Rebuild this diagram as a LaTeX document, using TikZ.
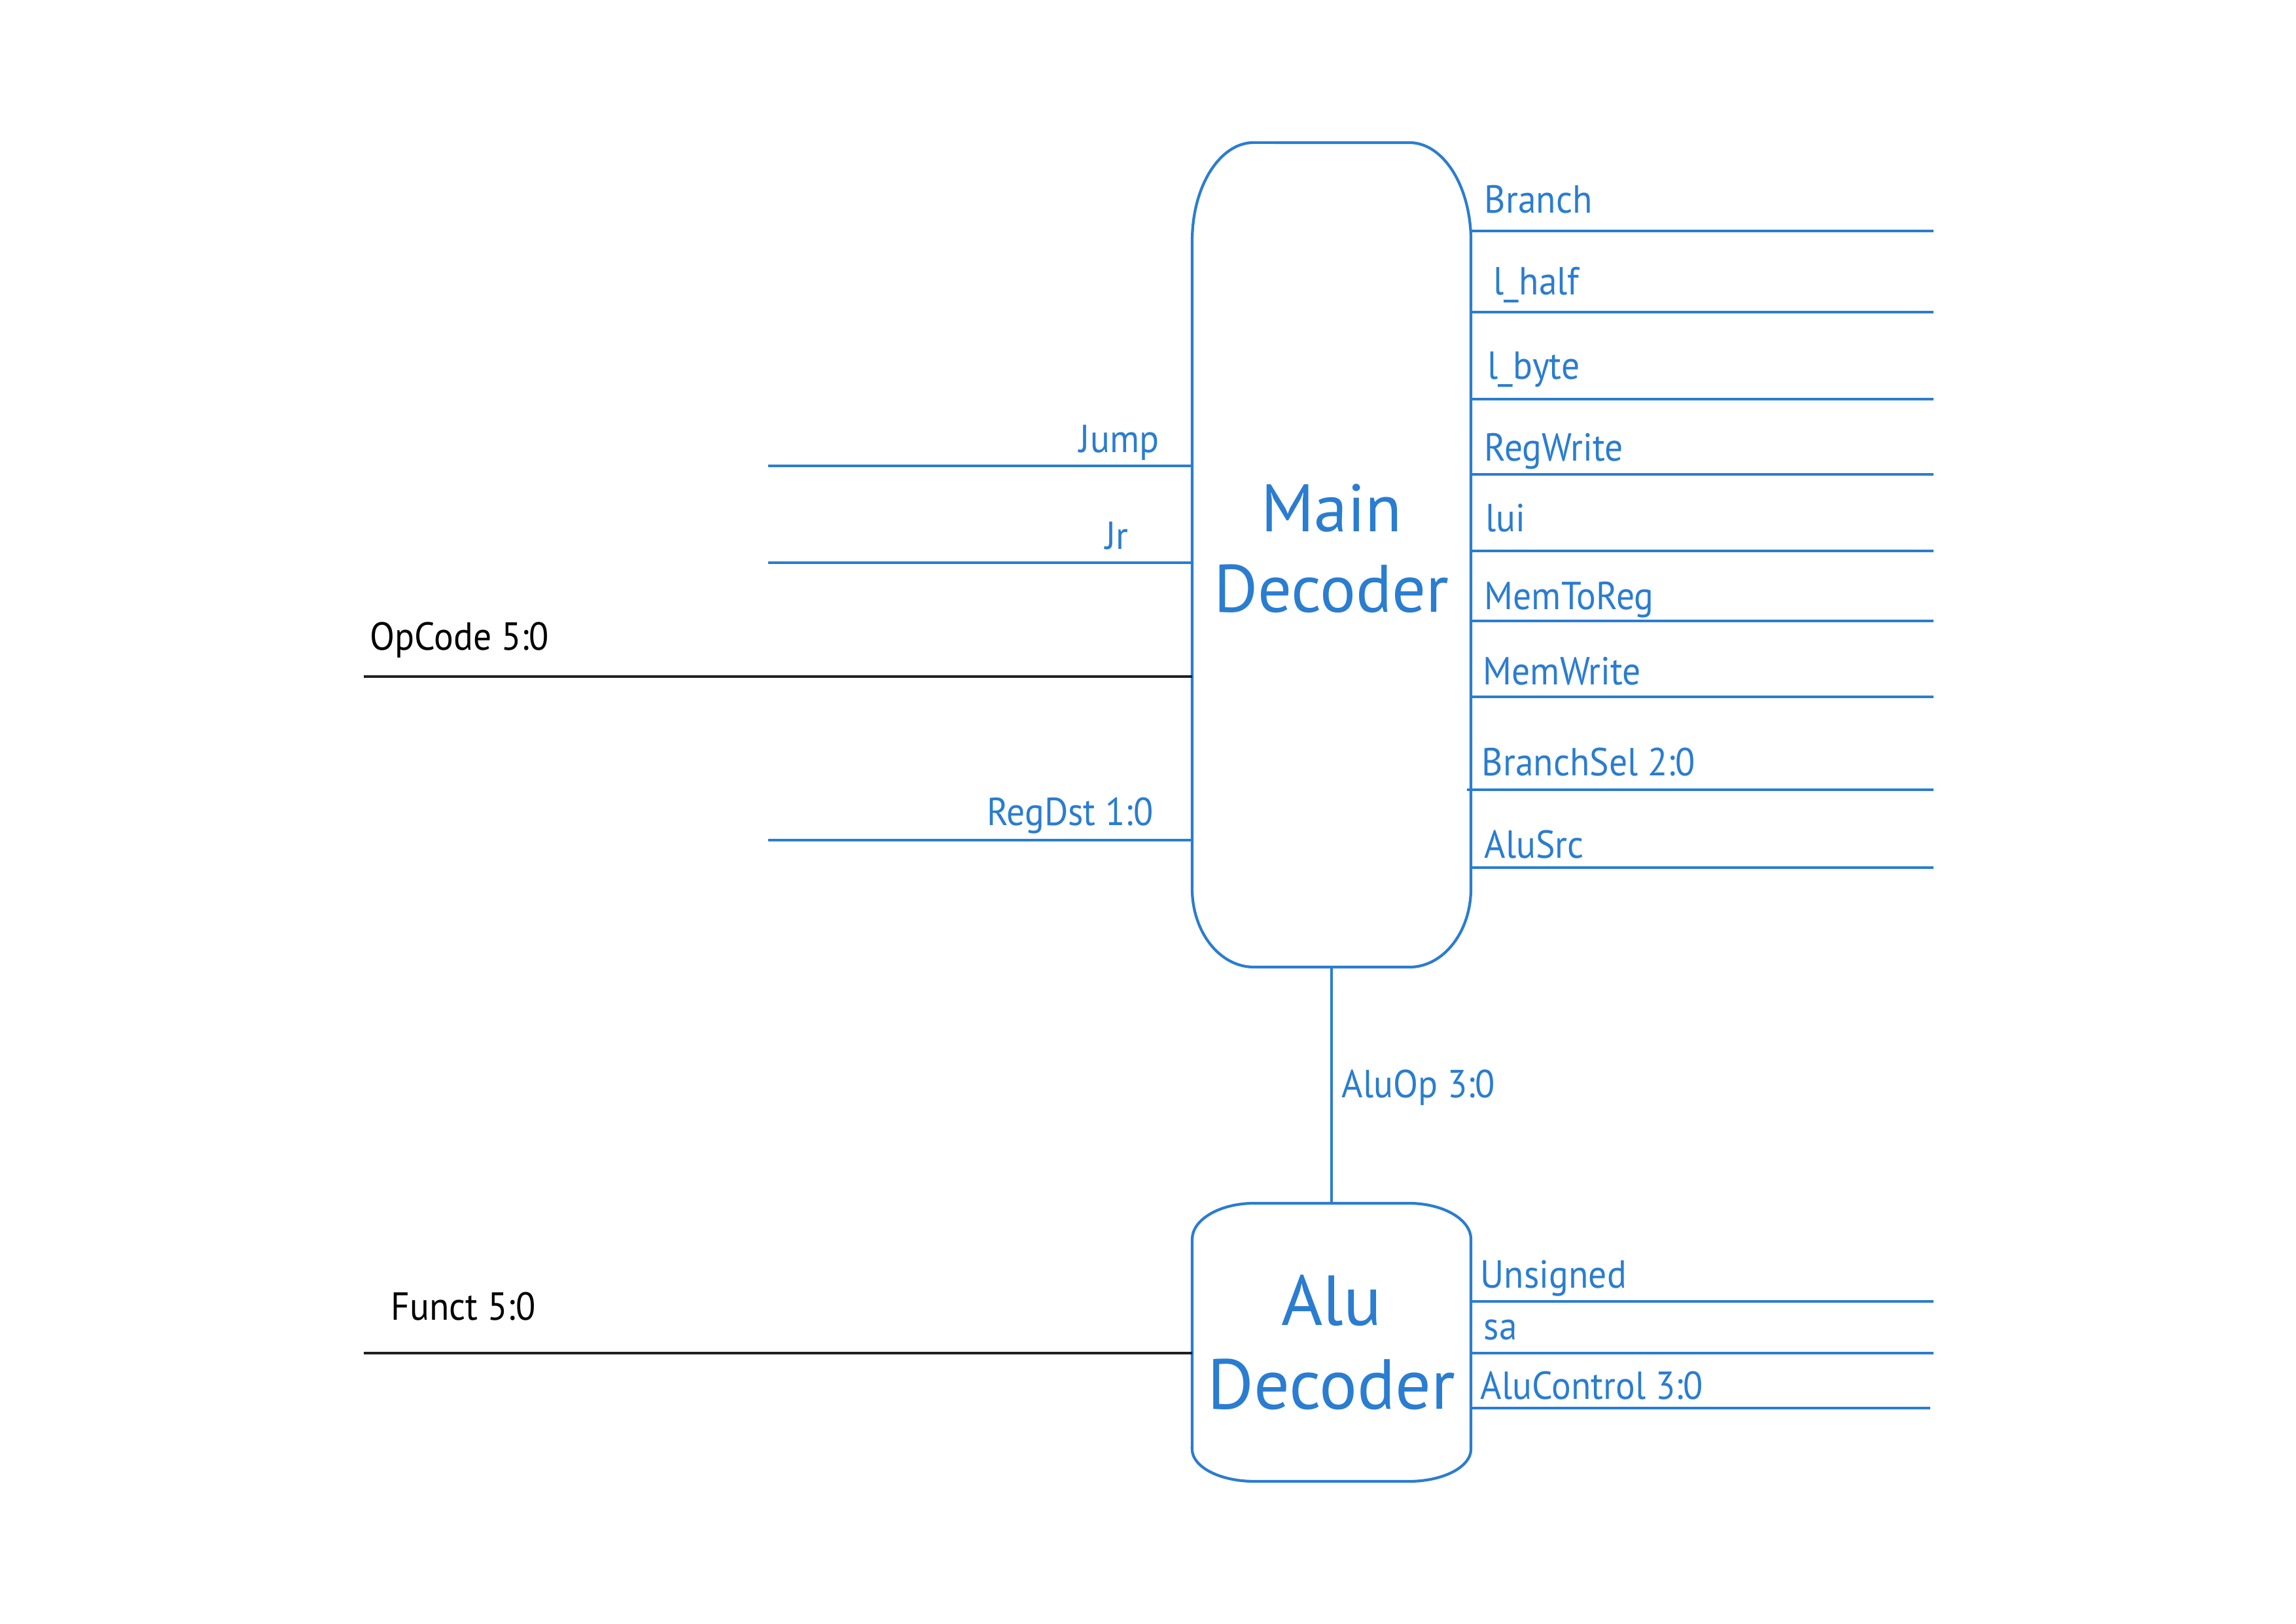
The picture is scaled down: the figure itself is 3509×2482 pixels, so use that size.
\documentclass[tikz,border=0pt]{standalone}
\usepackage{fontspec}
\setmainfont{PT Sans}
\newfontfamily\lblfont{PT Sans}[FakeStretch=0.93]
\definecolor{wire}{HTML}{2A7DD0}
\definecolor{ink}{HTML}{231F20}
\begin{document}
\begin{tikzpicture}[x=0.01cm,y=0.01cm,
  bluewire/.style={draw=wire,line width=1.2pt},
  blackwire/.style={draw=ink,line width=1.25pt},
  lbl/.style={text=wire,font=\lblfont\fontsize{17}{20}\selectfont,inner sep=0pt},
  blbl/.style={text=black,font=\lblfont\fontsize{17}{20}\selectfont,inner sep=0pt},
  title/.style={text=wire,font=\fontsize{29.2}{34}\selectfont,inner sep=0pt},
  atitle/.style={text=wire,font=\fontsize{30.8}{36}\selectfont,inner sep=0pt},
  block/.style={rectangle,inner sep=0pt,outer sep=0pt,minimum width=4.26cm}]
\useasboundingbox (0,0) rectangle (3509,2482);
\fill[white] (0,0) rectangle (3509,2482);

% blocks (outlines drawn with elliptical corners)
\node[block,minimum height=12.60cm] (main) at (2035,1634) {};
\node[block,minimum height=4.25cm] (alu) at (2035,430.5) {};

\draw[bluewire] (1822,1124) -- (1822,2114)
  arc[start angle=180,end angle=90,x radius=0.94cm,y radius=1.5cm]
  -- (2154,2264)
  arc[start angle=90,end angle=0,x radius=0.94cm,y radius=1.5cm]
  -- (2248,1124)
  arc[start angle=0,end angle=-90,x radius=0.94cm,y radius=1.2cm]
  -- (1916,1004)
  arc[start angle=270,end angle=180,x radius=0.94cm,y radius=1.2cm]
  -- cycle;
\draw[bluewire] (1822,267) -- (1822,588)
  arc[start angle=180,end angle=90,x radius=0.95cm,y radius=0.55cm]
  -- (2153,643)
  arc[start angle=90,end angle=0,x radius=0.95cm,y radius=0.55cm]
  -- (2248,267)
  arc[start angle=0,end angle=-90,x radius=0.95cm,y radius=0.49cm]
  -- (1917,218)
  arc[start angle=270,end angle=180,x radius=0.95cm,y radius=0.49cm]
  -- cycle;

% titles
\node[title,anchor=base] (mainA) at (2035,1669) {Main};
\node[title,anchor=base] (mainB) at (2035,1546) {Decoder};
\node[atitle,anchor=base] (aluA) at (2035,456) {Alu};
\node[atitle,anchor=base] (aluB) at (2035,328) {Decoder};

% main decoder outputs
\coordinate (oBranch) at (2955,2129);
\coordinate (oLhalf) at (2955,2005);
\coordinate (oLbyte) at (2955,1872);
\coordinate (oRegWrite) at (2955,1757);
\coordinate (oLui) at (2955,1640);
\coordinate (oMemToReg) at (2955,1533);
\coordinate (oMemWrite) at (2955,1417);
\coordinate (oBranchSel) at (2955,1275);
\coordinate (oAluSrc) at (2955,1156);
\foreach \c in {oBranch,oLhalf,oLbyte,oRegWrite,oLui,oMemToReg,oMemWrite,oAluSrc}
  \draw[bluewire] (\c -| main.east) -- (\c);
\draw[bluewire] ([xshift=-0.06cm]oBranchSel -| main.east) -- (oBranchSel);

\node[lbl,anchor=base west] (tBranch) at (2268,2156) {Branch};
\node[lbl,anchor=base west] (tLhalf) at (2282,2031) {l\_half};
\node[lbl,anchor=base west] (tLbyte) at (2273,1902) {l\_byte};
\node[lbl,anchor=base west] (tRegWrite) at (2268,1777) {RegWrite};
\node[lbl,anchor=base west] (tLui) at (2270,1669) {lui};
\node[lbl,anchor=base west] (tMemToReg) at (2268,1550) {MemToReg};
\node[lbl,anchor=base west] (tMemWrite) at (2266,1435) {MemWrite};
\node[lbl,anchor=base west] (tBranchSel) at (2264,1296) {BranchSel 2:0};
\node[lbl,anchor=base west] (tAluSrc) at (2268,1170) {AluSrc};

% main decoder inputs / left side
\coordinate (iJump) at (1174,1770);
\coordinate (iJr) at (1174,1622);
\coordinate (iOp) at (556,1448);
\coordinate (iRegDst) at (1174,1198);
\draw[bluewire] (iJump) -- (iJump -| main.west);
\draw[bluewire] (iJr) -- (iJr -| main.west);
\draw[blackwire] (iOp) -- (iOp -| main.west);
\draw[bluewire] (iRegDst) -- (iRegDst -| main.west);
\node[lbl,anchor=base east] (tJump) at (1772,1790) {Jump};
\node[lbl,anchor=base east] (tJr) at (1725,1642) {Jr};
\node[blbl,anchor=base west] (tOp) at (565,1488) {OpCode 5:0};
\node[lbl,anchor=base east] (tRegDst) at (1763,1220) {RegDst 1:0};

% AluOp
\draw[bluewire] (main.south) -- (alu.north);
\node[lbl,anchor=base west] (tAluOp) at (2050,804) {AluOp 3:0};

% alu decoder
\coordinate (iFunct) at (556,414);
\draw[blackwire] (iFunct) -- (iFunct -| alu.west);
\node[blbl,anchor=base west] (tFunct) at (597,464) {Funct 5:0};

\coordinate (oUnsigned) at (2955,493);
\coordinate (oSa) at (2955,414);
\coordinate (oAluCtl) at (2950,330);
\foreach \c in {oUnsigned,oSa,oAluCtl}
  \draw[bluewire] (\c -| alu.east) -- (\c);
\node[lbl,anchor=base west] (tUnsigned) at (2262,513) {Unsigned};
\node[lbl,anchor=base west] (tSa) at (2267,434) {sa};
\node[lbl,anchor=base west] (tAluCtl) at (2262,343) {AluControl 3:0};
\end{tikzpicture}
\end{document}
